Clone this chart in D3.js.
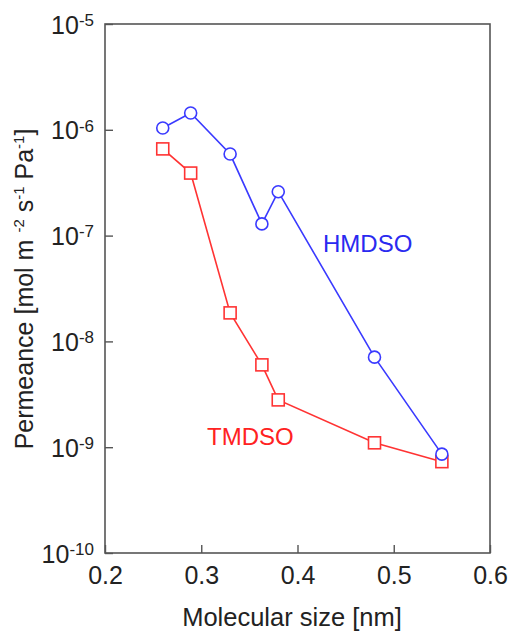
<!doctype html>
<html lang="en">
<head>
<meta charset="utf-8">
<script src="https://cdnjs.cloudflare.com/ajax/libs/d3/7.8.5/d3.min.js"></script>
<style>
  body { margin: 0; background: #fff; }
  svg text { font-family: "Liberation Sans", Arial, sans-serif; fill: #222; }
  .frame line, .frame path { stroke: #555; }
</style>
</head>
<body>
<script>
// data
const sizes = [0.26, 0.289, 0.33, 0.363, 0.38, 0.48, 0.55];
const hmdso = [1.04e-6, 1.44e-6, 5.9e-7, 1.29e-7, 2.6e-7, 7.1e-9, 8.6e-10];
const tmdso = [6.6e-7, 3.9e-7, 1.86e-8, 6.0e-9, 2.8e-9, 1.1e-9, 7.3e-10];
const xTicks = [0.2, 0.3, 0.4, 0.5, 0.6];
const yExps = [-10, -9, -8, -7, -6, -5];

const w = 511, h = 632;
const padL = 105, padR = 490, padT = 24, padB = 553;

const svg = d3.select("body").append("svg")
  .attr("width", w).attr("height", h);

const x = d3.scaleLinear().domain([0.2, 0.6]).range([padL, padR]);
const y = d3.scaleLog().domain([1e-10, 1e-5]).range([padB, padT]);

// frame
svg.append("rect")
  .attr("x", padL).attr("y", padT)
  .attr("width", padR - padL).attr("height", padB - padT)
  .attr("fill", "none").attr("stroke", "#555").attr("stroke-width", 1.6);

// x axis, ticks pointing inward
const gx = svg.append("g").attr("class", "frame")
  .attr("transform", "translate(0," + padB + ")")
  .call(d3.axisBottom(x).tickValues(xTicks).tickSizeInner(-8).tickSizeOuter(0).tickPadding(13).tickFormat(d3.format(".1f")));
gx.select(".domain").remove();
gx.selectAll("line").attr("stroke-width", 1.4);
gx.selectAll("text").attr("font-size", 25).attr("fill", "#222").attr("dy", "0.71em");

// y axis, ticks pointing inward, labels as 10^n
const gy = svg.append("g").attr("class", "frame")
  .attr("transform", "translate(" + padL + ",0)")
  .call(d3.axisLeft(y).tickValues(yExps.map(e => Math.pow(10, e))).tickSizeInner(-8).tickSizeOuter(0).tickPadding(11).tickFormat(""));
gy.select(".domain").remove();
gy.selectAll("line").attr("stroke-width", 1.4);
gy.selectAll("text").each(function(d) {
  const t = d3.select(this).attr("font-size", 25).attr("fill", "#222").attr("dy", "0.36em");
  t.append("tspan").text("10");
  t.append("tspan").attr("dy", "-0.45em").attr("font-size", 17).text(String(Math.round(Math.log10(d))));
});

// lines and markers
const line = d3.line().x((d, i) => x(sizes[i])).y(d => y(d));

svg.append("path").datum(tmdso)
  .attr("d", line).attr("fill", "none")
  .attr("stroke", "#ff3333").attr("stroke-width", 1.6);
svg.selectAll(".sq").data(tmdso).enter().append("rect")
  .attr("class", "sq")
  .attr("x", (d, i) => x(sizes[i]) - 6)
  .attr("y", d => y(d) - 6)
  .attr("width", 12).attr("height", 12)
  .attr("fill", "#fff").attr("stroke", "#ff3333").attr("stroke-width", 1.6);

svg.append("path").datum(hmdso)
  .attr("d", line).attr("fill", "none")
  .attr("stroke", "#3a3aff").attr("stroke-width", 1.6);
svg.selectAll(".ci").data(hmdso).enter().append("circle")
  .attr("class", "ci")
  .attr("cx", (d, i) => x(sizes[i]))
  .attr("cy", d => y(d))
  .attr("r", 6)
  .attr("fill", "#fff").attr("stroke", "#3a3aff").attr("stroke-width", 1.6);

// series labels
svg.append("text").attr("x", 323).attr("y", 252)
  .attr("font-size", 24).style("fill", "#2a2af0").text("HMDSO");
svg.append("text").attr("x", 207).attr("y", 445)
  .attr("font-size", 24).style("fill", "#ff2222").text("TMDSO");

// axis titles
svg.append("text")
  .attr("x", 292).attr("y", 626)
  .attr("text-anchor", "middle").attr("font-size", 25.5)
  .text("Molecular size [nm]");

const yt = svg.append("text")
  .attr("transform", "translate(33,289) rotate(-90)")
  .attr("text-anchor", "middle").attr("font-size", 25);
yt.append("tspan").text("Permeance [mol m ");
yt.append("tspan").attr("dy", -9).attr("font-size", 15).text("-2");
yt.append("tspan").attr("dy", 9).text(" s");
yt.append("tspan").attr("dy", -9).attr("font-size", 15).text("-1");
yt.append("tspan").attr("dy", 9).text(" Pa");
yt.append("tspan").attr("dy", -9).attr("font-size", 15).text("-1");
yt.append("tspan").attr("dy", 9).text("]");
</script>
</body>
</html>
